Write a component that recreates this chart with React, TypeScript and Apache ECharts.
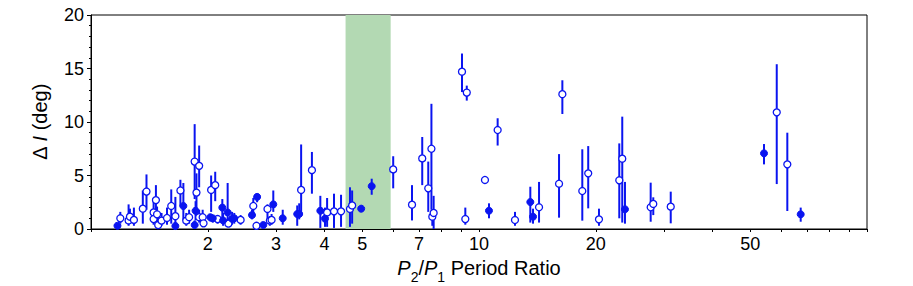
import React, { useEffect, useRef } from "react";
import * as echarts from "echarts";

// Period ratio P2/P1
const ratio = [
  1.17, 1.19, 1.25, 1.26, 1.29, 1.36, 1.39, 1.45, 1.45, 1.47, 1.48, 1.49, 1.52, 1.57, 1.61, 1.65, 1.65, 1.70, 1.73, 1.76,
  1.79, 1.85, 1.85, 1.86, 1.87, 1.90, 1.90, 1.94, 1.95, 2.03, 2.04, 2.06, 2.09, 2.12, 2.18, 2.19, 2.25, 2.26, 2.31, 2.34,
  2.43, 2.60, 2.62, 2.68, 2.67, 2.78, 2.85, 2.89, 2.92, 2.95, 3.12, 3.40, 3.44, 3.48, 3.71, 3.90, 4.01, 4.06, 4.23, 4.41,
  4.65, 4.71, 4.97, 5.29, 6.01, 6.72, 7.14, 7.40, 7.54, 7.58, 7.64, 9.04, 9.22, 9.30, 10.36, 10.61, 11.17, 12.38, 13.56, 13.78,
  14.28, 16.08, 16.40, 18.46, 19.12, 20.38, 22.99, 23.40, 23.78, 27.70, 28.13, 31.20, 54.27, 58.53, 62.32, 67.47,
];
// Mutual inclination ΔI (deg)
const deltaI = [
  0.3, 1.0, 0.8, 1.15, 0.85, 1.9, 3.5, 1.55, 0.93, 2.7, 1.37, 0.37, 0.78, 1.03, 2.15, 1.2, 0.28, 3.6, 2.15, 0.78,
  1.1, 0.37, 6.3, 1.7, 3.4, 5.9, 1.1, 1.1, 0.53, 1.1, 3.65, 1.0, 4.1, 0.93, 2.0, 0.8, 1.55, 0.5, 0.95, 1.0,
  0.85, 1.3, 2.15, 3.0, 0.3, 0.37, 1.87, 0.78, 0.85, 2.3, 1.0, 1.4, 1.4, 3.65, 5.5, 1.7, 0.97, 1.55, 1.65, 1.65,
  1.87, 2.2, 1.9, 4.0, 5.57, 2.27, 6.6, 3.8, 7.5, 1.15, 1.5, 14.7, 0.93, 12.75, 4.58, 1.71, 9.25, 0.84, 2.52, 1.15,
  2.03, 4.23, 12.6, 3.55, 5.2, 0.9, 4.55, 6.57, 1.84, 2.03, 2.34, 2.09, 7.07, 10.9, 6.04, 1.37,
];
// Lower end of error bar
const deltaILo = [
  0.1, 0.5, 0.3, 0.6, 0.3, 0.5, 1.8, 0.7, 0.4, 1.3, 0.6, 0.0, 0.3, 0.4, 0.5, 0.5, 0.0, 2.1, 0.8, 0.3,
  0.5, 0.0, 2.8, 0.8, 1.3, 3.9, 0.6, 0.5, 0.2, 0.7, 1.6, 0.6, 2.6, 0.5, 1.0, 0.3, 0.4, 0.2, 0.4, 0.5,
  0.4, 0.9, 1.4, 2.5, 0.0, 0.1, 1.0, 0.3, 0.4, 1.6, 0.4, 0.3, 0.9, 1.5, 3.3, 0.1, 0.2, 0.2, 0.1, 0.2,
  0.2, 0.5, 1.6, 3.2, 3.8, 0.8, 4.1, 1.6, 1.8, 0.3, 0.0, 12.8, 0.4, 12.0, 4.4, 1.0, 7.8, 0.3, 0.6, 0.5,
  0.6, 1.06, 10.75, 0.78, 1.93, 0.3, 1.0, 0.6, 0.5, 0.68, 1.3, 0.53, 6.04, 4.2, 1.68, 0.68,
];
// Upper end of error bar
const deltaIHi = [
  0.5, 1.6, 2.3, 1.9, 2.0, 3.6, 5.1, 2.9, 1.6, 4.1, 2.1, 1.0, 1.5, 2.0, 3.7, 3.0, 0.6, 4.6, 4.3, 1.5,
  1.8, 0.8, 9.8, 2.6, 5.2, 7.8, 1.8, 1.8, 1.0, 1.4, 5.0, 1.3, 5.35, 1.3, 2.8, 1.5, 4.3, 1.0, 1.6, 1.5,
  1.3, 1.8, 2.9, 3.3, 0.6, 0.6, 2.3, 1.2, 1.4, 3.6, 1.8, 2.2, 2.4, 7.9, 7.2, 3.1, 2.0, 2.9, 3.3, 3.2,
  3.9, 3.6, 2.2, 4.7, 6.8, 4.1, 8.6, 6.3, 11.7, 1.8, 3.1, 16.4, 2.0, 13.4, 4.7, 2.4, 10.35, 1.6, 3.95, 1.9,
  4.4, 7.0, 13.9, 7.45, 7.75, 1.9, 8.0, 10.5, 4.4, 4.33, 2.96, 3.49, 7.94, 15.4, 9.0, 2.0,
];
// 1 = filled marker, 0 = open marker
const isFilled = [
  1, 0, 0, 0, 0, 0, 0, 0, 0, 0, 0, 0, 0, 0, 0, 0, 1, 0, 1, 0,
  0, 1, 0, 1, 0, 0, 0, 0, 0, 1, 0, 1, 0, 0, 1, 1, 1, 0, 1, 1,
  0, 1, 0, 1, 0, 1, 0, 0, 0, 1, 1, 1, 1, 0, 0, 1, 1, 0, 0, 0,
  0, 0, 1, 1, 0, 0, 0, 0, 0, 0, 0, 0, 0, 0, 0, 1, 0, 0, 1, 1,
  0, 0, 0, 0, 0, 0, 0, 0, 1, 0, 0, 0, 1, 0, 0, 1,
];
const shadedBand = [4.53, 5.92];
const xTickLabels = [2, 3, 4, 5, 7, 10, 20, 50];
const xTickMarks = [1, 2, 3, 4, 5, 6, 7, 8, 9, 10, 20, 30, 40, 50, 60, 70, 80, 90, 100];
const xRange = [1, 100];
const yTicks = [0, 5, 10, 15, 20];

const BLUE = "#0a14f0";
const FONT = "'Liberation Sans', Arial, sans-serif";

export default function App() {
  const ref = useRef<HTMLDivElement>(null);
  useEffect(() => {
    if (!ref.current) return;
    const chart = echarts.init(ref.current, undefined, { renderer: "svg" });
    const lg = (v: number) => Math.log10(v);
    const bars = ratio.map((r, i) => [lg(r), deltaILo[i], deltaIHi[i]]);
    const filledPts = ratio.map((r, i) => (isFilled[i] ? [lg(r), deltaI[i]] : null)).filter(Boolean);
    const openPts = ratio.map((r, i) => (!isFilled[i] ? [lg(r), deltaI[i]] : null)).filter(Boolean);
    const option: any = {
      animation: false,
      grid: { left: 91, right: 46, top: 15, bottom: 57, show: true, borderColor: "#000", borderWidth: 1, outerBoundsMode: "none" },
      xAxis: {
        type: "value",
        min: lg(xRange[0]),
        max: lg(xRange[1]),
        splitLine: { show: false },
        axisLine: { show: true, lineStyle: { color: "#000", width: 1 } },
        axisTick: { show: true, customValues: xTickMarks.map(lg), length: 3, lineStyle: { color: "#000" } },
        axisLabel: {
          customValues: xTickLabels.map(lg),
          formatter: (v: number) => String(Math.round(Math.pow(10, v))),
          fontFamily: FONT,
          fontSize: 18,
          color: "#000",
          margin: 6,
        },
        name: "{i|P}{s|2}{n|/}{i|P}{s|1}{n| Period Ratio}",
        nameLocation: "middle",
        nameGap: 29,
        nameTextStyle: {
          fontFamily: FONT,
          fontSize: 20,
          color: "#000",
          rich: {
            i: { fontFamily: FONT, fontSize: 20, fontStyle: "italic", color: "#000", lineHeight: 26, verticalAlign: "top" },
            n: { fontFamily: FONT, fontSize: 20, color: "#000", lineHeight: 26, verticalAlign: "top" },
            s: { fontFamily: FONT, fontSize: 14, color: "#000", lineHeight: 26, verticalAlign: "bottom" },
          },
        },
      },
      yAxis: {
        type: "value",
        min: yTicks[0],
        max: yTicks[yTicks.length - 1],
        interval: 5,
        splitLine: { show: false },
        axisLine: { show: true, lineStyle: { color: "#000", width: 1 } },
        axisTick: { show: true, length: 4, lineStyle: { color: "#000" } },
        minorTick: { show: true, splitNumber: 5, length: 2, lineStyle: { color: "#000" } },
        axisLabel: { fontFamily: FONT, fontSize: 18, color: "#000", margin: 7 },
        name: "{n|Δ }{i|I}{n| (deg)}",
        nameLocation: "middle",
        nameRotate: 90,
        nameGap: 41,
        nameTextStyle: {
          fontFamily: FONT,
          fontSize: 20,
          color: "#000",
          rich: {
            i: { fontFamily: FONT, fontSize: 20, fontStyle: "italic", color: "#000" },
            n: { fontFamily: FONT, fontSize: 20, color: "#000" },
          },
        },
      },
      series: [
        {
          type: "line",
          data: [],
          z: 1,
          markArea: {
            silent: true,
            itemStyle: { color: "#b3d9b3", opacity: 1 },
            data: [[{ xAxis: lg(shadedBand[0]) }, { xAxis: lg(shadedBand[1]) }]],
          },
        },
        {
          type: "custom",
          z: 2,
          data: bars,
          encode: { x: 0, y: [1, 2] },
          renderItem: (_p: any, api: any) => {
            const a = api.coord([api.value(0), api.value(1)]);
            const b = api.coord([api.value(0), api.value(2)]);
            return {
              type: "line",
              shape: { x1: a[0], y1: a[1], x2: b[0], y2: b[1] },
              style: { stroke: BLUE, lineWidth: 2 },
            };
          },
        },
        {
          type: "scatter",
          z: 3,
          data: openPts,
          symbol: "circle",
          symbolSize: 7,
          itemStyle: { color: "#fff", borderColor: BLUE, borderWidth: 1.3, opacity: 1 },
        },
        {
          type: "scatter",
          z: 4,
          data: filledPts,
          symbol: "circle",
          symbolSize: 7,
          itemStyle: { color: BLUE, borderColor: BLUE, borderWidth: 1, opacity: 1 },
        },
      ],
    };
    chart.setOption(option);
    return () => chart.dispose();
  }, []);
  return <div ref={ref} style={{ position: "fixed", left: 0, top: 0, width: 913, height: 286, background: "#fff" }} />;
}
